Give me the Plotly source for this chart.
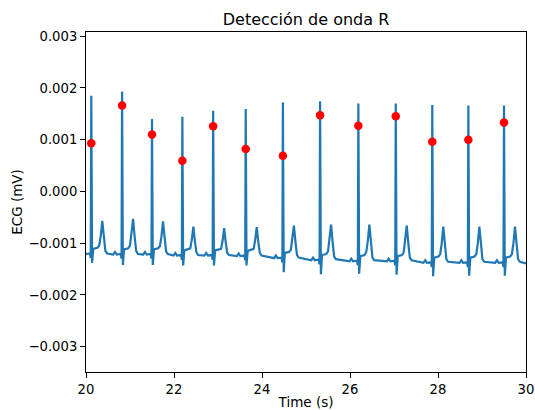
import plotly.graph_objects as go

# ECG trace vertices (time in s, value in mV), read beat by beat from the picture
ecg_time = [
    19.90,
    19.92, 19.96, 20.00, 20.09, 20.108, 20.12, 20.138, 20.165, 20.26, 20.30, 20.335, 20.37, 20.405, 20.44, 20.48,
    20.62, 20.66, 20.70, 20.79, 20.808, 20.82, 20.838, 20.865, 20.96, 21.00, 21.035, 21.07, 21.105, 21.14, 21.18,
    21.30, 21.34, 21.38, 21.47, 21.488, 21.50, 21.518, 21.545, 21.64, 21.68, 21.715, 21.75, 21.785, 21.82, 21.86,
    21.99, 22.03, 22.07, 22.16, 22.178, 22.19, 22.208, 22.235, 22.33, 22.37, 22.405, 22.44, 22.475, 22.51, 22.55,
    22.69, 22.73, 22.77, 22.86, 22.878, 22.89, 22.908, 22.935, 23.03, 23.07, 23.105, 23.14, 23.175, 23.21, 23.25,
    23.43, 23.47, 23.51, 23.60, 23.618, 23.63, 23.648, 23.675, 23.77, 23.81, 23.845, 23.88, 23.915, 23.95, 23.99,
    24.275, 24.315, 24.355, 24.445, 24.463, 24.475, 24.493, 24.52, 24.615, 24.655, 24.69, 24.725, 24.76, 24.795, 24.835,
    25.12, 25.16, 25.20, 25.29, 25.308, 25.32, 25.338, 25.365, 25.46, 25.50, 25.535, 25.57, 25.605, 25.64, 25.68,
    25.99, 26.03, 26.07, 26.16, 26.178, 26.19, 26.208, 26.235, 26.33, 26.37, 26.405, 26.44, 26.475, 26.51, 26.55,
    26.84, 26.88, 26.92, 27.01, 27.028, 27.04, 27.058, 27.085, 27.18, 27.22, 27.255, 27.29, 27.325, 27.36, 27.40,
    27.67, 27.71, 27.75, 27.84, 27.858, 27.87, 27.888, 27.915, 28.01, 28.05, 28.085, 28.12, 28.155, 28.19, 28.23,
    28.49, 28.53, 28.57, 28.66, 28.678, 28.69, 28.708, 28.735, 28.83, 28.87, 28.905, 28.94, 28.975, 29.01, 29.05,
    29.30, 29.34, 29.38, 29.47, 29.488, 29.50, 29.518, 29.545, 29.64, 29.68, 29.715, 29.75, 29.785, 29.82, 29.86,
    30.00,
]
ecg_value = [
    -0.00121,
    -0.00121, -0.00116, -0.00121, -0.00120, -0.00129, 0.00185, -0.00138, -0.00111, -0.00109, -0.00105, -0.00086, -0.00057, -0.00089, -0.00115, -0.00120,
    -0.00122, -0.00117, -0.00122, -0.00121, -0.00130, 0.00193, -0.00142, -0.00112, -0.00110, -0.00105, -0.00084, -0.00053, -0.00087, -0.00115, -0.00121,
    -0.00122, -0.00117, -0.00122, -0.00121, -0.00130, 0.00140, -0.00142, -0.00112, -0.00110, -0.00106, -0.00087, -0.00058, -0.00090, -0.00116, -0.00121,
    -0.00124, -0.00119, -0.00124, -0.00123, -0.00132, 0.00144, -0.00143, -0.00114, -0.00112, -0.00110, -0.00093, -0.00068, -0.00096, -0.00118, -0.00123,
    -0.00124, -0.00119, -0.00124, -0.00123, -0.00132, 0.00156, -0.00143, -0.00114, -0.00112, -0.00111, -0.00095, -0.00071, -0.00098, -0.00119, -0.00123,
    -0.00125, -0.00120, -0.00125, -0.00124, -0.00133, 0.00159, -0.00143, -0.00115, -0.00113, -0.00111, -0.00094, -0.00069, -0.00097, -0.00119, -0.00124,
    -0.00129, -0.00124, -0.00129, -0.00128, -0.00137, 0.00172, -0.00156, -0.00119, -0.00117, -0.00113, -0.00094, -0.00066, -0.00097, -0.00123, -0.00128,
    -0.00133, -0.00128, -0.00133, -0.00132, -0.00141, 0.00174, -0.00160, -0.00123, -0.00121, -0.00116, -0.00095, -0.00064, -0.00098, -0.00126, -0.00131,
    -0.00135, -0.00130, -0.00135, -0.00134, -0.00143, 0.00170, -0.00159, -0.00125, -0.00123, -0.00117, -0.00096, -0.00064, -0.00099, -0.00128, -0.00133,
    -0.00135, -0.00130, -0.00135, -0.00134, -0.00143, 0.00170, -0.00161, -0.00125, -0.00123, -0.00118, -0.00097, -0.00066, -0.00100, -0.00128, -0.00133,
    -0.00138, -0.00133, -0.00138, -0.00137, -0.00146, 0.00167, -0.00164, -0.00128, -0.00126, -0.00121, -0.00100, -0.00068, -0.00103, -0.00131, -0.00136,
    -0.00138, -0.00133, -0.00138, -0.00137, -0.00146, 0.00166, -0.00163, -0.00128, -0.00126, -0.00121, -0.00100, -0.00068, -0.00103, -0.00131, -0.00136,
    -0.00138, -0.00133, -0.00138, -0.00137, -0.00146, 0.00166, -0.00163, -0.00128, -0.00126, -0.00121, -0.00100, -0.00068, -0.00103, -0.00131, -0.00136,
    -0.00139,
]

# Detected R-wave marks
r_time = [20.12, 20.82, 21.50, 22.19, 22.89, 23.63, 24.475, 25.32, 26.19, 27.04, 27.87, 28.69, 29.50]
r_value = [0.00093, 0.00166, 0.00110, 0.00059, 0.00126, 0.00082, 0.00069,
           0.00147, 0.00127, 0.00145, 0.00096, 0.00100, 0.00133]

x_ticks = [20, 22, 24, 26, 28, 30]
y_ticks = [-0.003, -0.002, -0.001, 0.0, 0.001, 0.002, 0.003]

FONT = "DejaVu Sans"

fig = go.Figure()
fig.add_trace(go.Scatter(
    x=ecg_time, y=ecg_value, mode="lines",
    line=dict(color="#1f77b4", width=2.2), showlegend=False, hoverinfo="skip",
))
fig.add_trace(go.Scatter(
    x=r_time, y=r_value, mode="markers",
    marker=dict(color="red", size=8.5, line=dict(width=0)), showlegend=False,
))

axis_common = dict(
    showgrid=False, zeroline=False, showline=True, linecolor="black", linewidth=1.1,
    mirror=True, ticks="outside", ticklen=5, tickwidth=1.1, tickcolor="black",
    tickfont=dict(family=FONT, size=13.2, color="black"), ticklabeloverflow="allow",
)

fig.update_layout(
    width=535, height=410,
    margin=dict(l=86, r=9, t=32, b=38),
    paper_bgcolor="white", plot_bgcolor="white",
    title=dict(text="Detección de onda R", x=0.5, xanchor="center",
               xref="paper", y=1 - 19 / 410, yanchor="middle",
               font=dict(family=FONT, size=16, color="black")),
    xaxis=dict(range=[20, 30], tickvals=x_ticks, ticktext=[str(v) for v in x_ticks],
               title=dict(text="Time (s)", font=dict(family=FONT, size=13.5, color="black"), standoff=9),
               automargin=False, **axis_common),
    yaxis=dict(range=[-0.00349, 0.00308], tickvals=y_ticks, tickformat=".3f",
               title=dict(text="ECG (mV)", font=dict(family=FONT, size=13.5, color="black"), standoff=2),
               automargin=False, **axis_common),
)

fig.write_html("out.html")
